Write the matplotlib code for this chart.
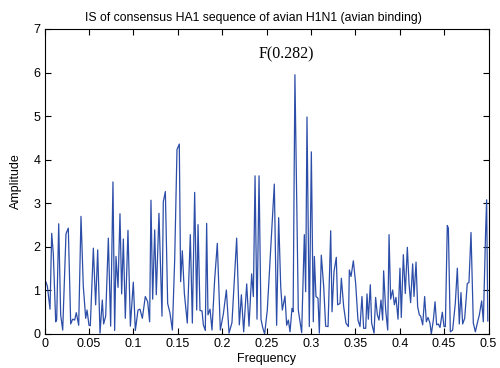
import matplotlib
matplotlib.use('Agg')
import matplotlib.pyplot as plt

# informational spectrum of the consensus HA1 sequence
freq = [0.0000, 0.0032, 0.0062, 0.0081, 0.0099, 0.0126, 0.0137, 0.0160, 0.0182, 0.0205,
        0.0242, 0.0268, 0.0295, 0.0317, 0.0340, 0.0358, 0.0385, 0.0411, 0.0437, 0.0464,
        0.0479, 0.0501, 0.0516, 0.0550, 0.0576, 0.0599, 0.0625, 0.0651, 0.0666, 0.0689,
        0.0719, 0.0745, 0.0771, 0.0790, 0.0805, 0.0828, 0.0850, 0.0869, 0.0888, 0.0910,
        0.0940, 0.0967, 0.1000, 0.1023, 0.1053, 0.1075, 0.1102, 0.1135, 0.1162, 0.1184,
        0.1199, 0.1218, 0.1241, 0.1259, 0.1289, 0.1323, 0.1338, 0.1361, 0.1387, 0.1413,
        0.1440, 0.1466, 0.1492, 0.1518, 0.1533, 0.1552, 0.1575, 0.1608, 0.1642, 0.1665,
        0.1691, 0.1714, 0.1729, 0.1751, 0.1774, 0.1789, 0.1811, 0.1826, 0.1841, 0.1864,
        0.1886, 0.1916, 0.1946, 0.1980, 0.2014, 0.2048, 0.2078, 0.2111, 0.2164, 0.2194,
        0.2217, 0.2243, 0.2277, 0.2303, 0.2333, 0.2352, 0.2371, 0.2393, 0.2416, 0.2438,
        0.2457, 0.2479, 0.2509, 0.2588, 0.2614, 0.2637, 0.2660, 0.2678, 0.2708, 0.2727,
        0.2746, 0.2765, 0.2787, 0.2800, 0.2820, 0.2858, 0.2896, 0.2926, 0.2941, 0.2956,
        0.2982, 0.3005, 0.3027, 0.3039, 0.3057, 0.3080, 0.3095, 0.3117, 0.3144, 0.3166,
        0.3193, 0.3223, 0.3238, 0.3260, 0.3286, 0.3301, 0.3328, 0.3343, 0.3369, 0.3395,
        0.3422, 0.3433, 0.3452, 0.3478, 0.3504, 0.3530, 0.3553, 0.3575, 0.3594, 0.3617,
        0.3632, 0.3647, 0.3669, 0.3684, 0.3711, 0.3729, 0.3748, 0.3767, 0.3789, 0.3808,
        0.3819, 0.3842, 0.3865, 0.3880, 0.3898, 0.3921, 0.3940, 0.3958, 0.3981, 0.4003,
        0.4018, 0.4041, 0.4063, 0.4086, 0.4105, 0.4123, 0.4146, 0.4161, 0.4184, 0.4202,
        0.4221, 0.4236, 0.4259, 0.4281, 0.4300, 0.4319, 0.4341, 0.4356, 0.4379, 0.4398,
        0.4416, 0.4435, 0.4454, 0.4480, 0.4499, 0.4514, 0.4536, 0.4548, 0.4570, 0.4596,
        0.4626, 0.4649, 0.4671, 0.4690, 0.4709, 0.4732, 0.4761, 0.4780, 0.4803, 0.4829,
        0.4852, 0.4874, 0.4897, 0.4923, 0.4942, 0.4968, 0.4979, 0.4992]
amp = [1.28, 1.10, 0.57, 2.31, 1.85, 0.28, 0.32, 2.53, 0.44, 0.09,
       2.30, 2.43, 0.23, 0.34, 0.32, 0.49, 0.20, 2.70, 1.09, 0.36,
       0.55, 0.20, 0.19, 1.97, 0.67, 1.93, 0.02, 0.78, 0.23, 0.41,
       2.20, 0.18, 3.49, 0.08, 1.78, 1.07, 2.76, 0.92, 2.18, 0.36,
       2.38, 0.18, 1.19, 0.08, 0.55, 0.57, 0.36, 0.86, 0.74, 0.28,
       3.07, 0.80, 2.39, 0.90, 2.77, 0.41, 3.04, 3.27, 0.70, 0.48,
       0.09, 1.70, 4.23, 4.36, 1.20, 1.91, 0.93, 0.25, 2.28, 0.25,
       3.25, 0.55, 2.51, 0.54, 0.53, 0.21, 0.08, 2.54, 0.44, 0.57,
       0.09, 1.24, 2.08, 0.09, 0.46, 1.01, 0.02, 0.26, 2.20, 0.21,
       0.90, 0.05, 1.15, 0.18, 1.38, 0.86, 3.63, 0.34, 3.63, 0.34,
       0.15, 0.00, 0.55, 3.44, 0.20, 2.67, 1.09, 0.55, 0.87, 0.20,
       0.32, 0.05, 0.59, 0.51, 5.95, 0.55, 0.03, 2.28, 0.97, 4.98,
       0.17, 4.18, 0.28, 1.78, 0.86, 0.82, 0.02, 1.81, 1.09, 0.18,
       0.17, 2.37, 0.51, 1.43, 1.76, 0.67, 0.70, 1.28, 0.63, 0.25,
       0.17, 1.47, 1.32, 1.68, 1.16, 0.32, 0.17, 0.86, 0.13, 0.13,
       0.92, 0.34, 1.13, 0.25, 0.02, 0.84, 0.44, 0.32, 0.78, 0.32,
       1.45, 0.55, 0.09, 2.28, 0.80, 1.01, 0.67, 0.84, 0.34, 1.51,
       0.38, 1.82, 0.93, 1.99, 1.16, 0.72, 1.61, 0.86, 1.65, 0.63,
       0.44, 0.41, 0.21, 0.86, 0.28, 0.38, 0.25, 0.00, 0.32, 0.74,
       0.21, 0.23, 0.15, 0.50, 0.17, 0.17, 2.49, 2.43, 0.05, 0.09,
       0.70, 1.51, 0.23, 0.95, 0.23, 0.36, 1.16, 1.18, 2.33, 0.25,
       0.05, 0.25, 0.44, 0.76, 0.28, 2.39, 3.08, 0.30]

xticks = [0, 0.05, 0.1, 0.15, 0.2, 0.25, 0.3, 0.35, 0.4, 0.45, 0.5]
xtick_labels = ['0', '0.05', '0.1', '0.15', '0.2', '0.25', '0.3', '0.35', '0.4', '0.45', '0.5']
peak_freq = 0.282

plt.rcParams['font.family'] = ['Liberation Sans', 'DejaVu Sans']

fig = plt.figure(figsize=(5.0, 3.68), dpi=100)
ax = fig.add_axes([0.089, 0.0924, 0.888, 0.8288])

ax.plot(freq, amp, color='#2d4ea8', linewidth=0.9)

ax.set_xlim(0, 0.5)
ax.set_ylim(0, 7)
ax.set_xticks(xticks)
ax.set_xticklabels(xtick_labels)
ax.set_yticks(range(8))
ax.tick_params(direction='in', top=True, right=True, labelsize=9, length=4, width=0.8, pad=3)
for s in ax.spines.values():
    s.set_linewidth(0.8)

ax.set_title('IS of consensus HA1 sequence of avian H1N1 (avian binding)', fontsize=8.8, pad=6, x=0.47)
ax.set_xlabel('Frequency', fontsize=9, labelpad=2)
ax.set_ylabel('Amplitude', fontsize=9, labelpad=8)

ax.text(0.272, 6.42, f'F({peak_freq})', family='Liberation Serif', fontsize=11.5,
        ha='center', va='center')

fig.savefig('out.png', dpi=100)
